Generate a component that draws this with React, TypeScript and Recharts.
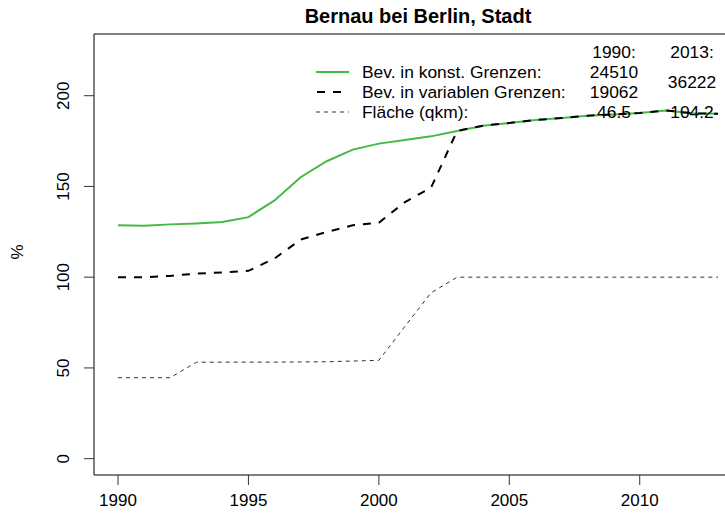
import React from 'react';
import { LineChart, Line, XAxis, YAxis, ReferenceLine } from 'recharts';

const years = [1990, 1991, 1992, 1993, 1994, 1995, 1996, 1997, 1998, 1999, 2000, 2001,
  2002, 2003, 2004, 2005, 2006, 2007, 2008, 2009, 2010, 2011, 2012, 2013];

// % of 1990 population in variable borders (19062)
const konstGrenzen = [128.6, 128.3, 129.1, 129.6, 130.4, 133.1, 142.3, 155.1, 163.9, 170.3, 173.6, 175.6,
  177.6, 180.6, 183.5, 185.0, 186.6, 187.7, 189.0, 189.7, 190.5, 191.9, 190.3, 190.0];
const variableGrenzen = [100, 100, 100.7, 102.0, 102.6, 103.5, 110.3, 120.7, 124.9, 128.6, 130.0, 141.4,
  149.3, 180.6, 183.5, 185.0, 186.6, 187.7, 189.0, 189.7, 190.5, 191.9, 190.3, 190.0];
// % of 2013 area (104.2 qkm)
const flaeche = [44.6, 44.6, 44.6, 53.1, 53.2, 53.2, 53.2, 53.3, 53.4, 53.8, 54.2, 72.9,
  91.4, 100, 100, 100, 100, 100, 100, 100, 100, 100, 100, 100];

const xTicks = [1990, 1995, 2000, 2005, 2010];
const yTicks = [0, 50, 100, 150, 200];

const legendNames = ['Bev. in konst. Grenzen:', 'Bev. in variablen Grenzen:', 'Fläche (qkm):'];
const values1990 = ['24510', '19062', '46.5'];
const values2013 = ['36222', '104.2'];

const title = 'Bernau bei Berlin, Stadt';
const FONT = '"Liberation Sans", Arial, Helvetica, sans-serif';
const GREEN = '#45b945';
const LEG = 17.4;

const data = years.map((year, i) => ({
  year,
  konst: konstGrenzen[i],
  variabel: variableGrenzen[i],
  flaeche: flaeche[i],
}));

const YTick = (props: any) => {
  const { y, payload } = props;
  const bx = 69;
  return (
    <text x={bx} y={y} transform={`rotate(-90 ${bx} ${y})`} textAnchor="middle"
      fontSize={17} fontFamily={FONT} fill="#000">
      {payload.value}
    </text>
  );
};

const Overlay = () => (
  <svg width={725} height={517} style={{ position: 'absolute', left: 0, top: 0, pointerEvents: 'none' }}>
    <text x={418} y={23} textAnchor="middle" fontSize={20} fontWeight="bold" fontFamily={FONT} fill="#000">
      {title}
    </text>
    <text transform="rotate(-90 23 252)" x={23} y={252} textAnchor="middle" fontSize={17} fontFamily={FONT}>
      %
    </text>

    {/* legend */}
    <line x1={316} x2={349} y1={72} y2={72} stroke={GREEN} strokeWidth={2} />
    <line x1={316} x2={349} y1={92} y2={92} stroke="#000" strokeWidth={2} strokeDasharray="8 8" strokeDashoffset={-1} />
    <line x1={316} x2={349} y1={112} y2={112} stroke="#333" strokeWidth={1} strokeDasharray="4 4" />
    {legendNames.map((name, i) => (
      <text key={name} x={362} y={78 + i * 20} fontSize={LEG} fontFamily={FONT} fill="#000">{name}</text>
    ))}
    <text x={614} y={58} textAnchor="middle" fontSize={LEG} fontFamily={FONT}>1990:</text>
    <text x={692} y={58} textAnchor="middle" fontSize={LEG} fontFamily={FONT}>2013:</text>
    {values1990.map((v, i) => (
      <text key={v} x={614} y={78 + i * 20} textAnchor="middle" fontSize={LEG} fontFamily={FONT}>{v}</text>
    ))}
    <text x={692} y={88} textAnchor="middle" fontSize={LEG} fontFamily={FONT}>{values2013[0]}</text>
    <text x={692} y={118} textAnchor="middle" fontSize={LEG} fontFamily={FONT}>{values2013[1]}</text>
  </svg>
);

export default function App() {
  return (
    <div style={{ position: 'fixed', left: 0, top: 0, width: 725, height: 517, overflow: 'hidden', background: '#fff' }}>
      <LineChart width={760} height={517} data={data} margin={{ top: 34, right: 18, bottom: 0, left: 0 }}>
        <XAxis
          dataKey="year"
          type="number"
          domain={[1989.08, 2013.92]}
          allowDataOverflow
          ticks={xTicks}
          tickSize={10}
          tickMargin={9}
          height={42}
          stroke="#000"
          tickLine={{ stroke: '#333' }}
          tick={{ fill: '#000', fontSize: 17, fontFamily: FONT }}
        />
        <YAxis
          type="number"
          domain={[-9, 234]}
          allowDataOverflow
          ticks={yTicks}
          width={94}
          tickSize={10}
          stroke="#000"
          tickLine={{ stroke: '#333' }}
          tick={<YTick />}
        />
        <ReferenceLine y={234} stroke="#000" strokeWidth={1} />
        <Line dataKey="konst" stroke={GREEN} strokeWidth={2} dot={false} isAnimationActive={false} />
        <Line dataKey="variabel" stroke="#000" strokeWidth={2} strokeDasharray="8 8" dot={false} isAnimationActive={false} />
        <Line dataKey="flaeche" stroke="#333" strokeWidth={1} strokeDasharray="4 4" dot={false} isAnimationActive={false} />
      </LineChart>
      <Overlay />
    </div>
  );
}
